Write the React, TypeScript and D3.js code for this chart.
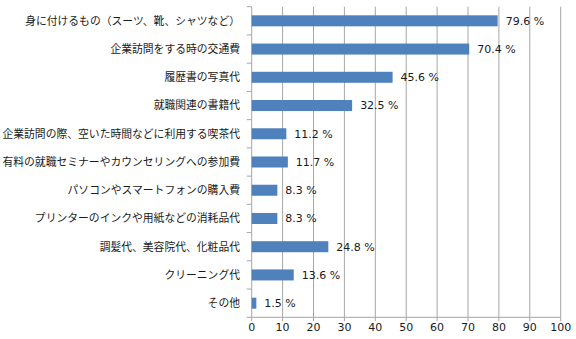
import React from "react";
import * as d3 from "d3";

const categories = [
  "身に付けるもの（スーツ、靴、シャツなど）",
  "企業訪問をする時の交通費",
  "履歴書の写真代",
  "就職関連の書籍代",
  "企業訪問の際、空いた時間などに利用する喫茶代",
  "有料の就職セミナーやカウンセリングへの参加費",
  "パソコンやスマートフォンの購入費",
  "プリンターのインクや用紙などの消耗品代",
  "調髪代、美容院代、化粧品代",
  "クリーニング代",
  "その他",
];
const values = [79.6, 70.4, 45.6, 32.5, 11.2, 11.7, 8.3, 8.3, 24.8, 13.6, 1.5];
const xTicks = [0, 10, 20, 30, 40, 50, 60, 70, 80, 90, 100];

const W = 576;
const H = 339;
const left = 251.7;
const right = 560.7;
const top = 6.7;
const bottom = 317.3;

export default function App() {
  const x = d3.scaleLinear().domain([0, 100]).range([left, right]);
  const y = d3
    .scaleBand<string>()
    .domain(categories)
    .range([top, bottom])
    .paddingInner(0.61)
    .paddingOuter(0.305);
  const band = (bottom - top) / categories.length;
  const grid = "#a6a6a6";
  const jp = "'Noto Sans CJK JP', 'Noto Sans', sans-serif";
  const num = "'DejaVu Sans', Verdana, sans-serif";
  return (
    <svg
      width={W}
      height={H}
      style={{ position: "absolute", left: 0, top: 0, background: "#fff" }}
    >
      {xTicks.map((t) => (
        <g key={t}>
          {t > 0 && (
            <line x1={x(t)} x2={x(t)} y1={top} y2={bottom} stroke={grid} strokeWidth={1} />
          )}
          <line x1={x(t)} x2={x(t)} y1={bottom} y2={bottom + 4} stroke={grid} />
          <text
            x={x(t)}
            y={bottom + 14}
            textAnchor="middle"
            fontFamily={num}
            fontSize={11}
            fill="#1a1a1a"
          >
            {t}
          </text>
        </g>
      ))}
      <line x1={left} x2={left} y1={top} y2={bottom} stroke={grid} />
      <line x1={left} x2={right} y1={bottom} y2={bottom} stroke={grid} />
      {d3.range(categories.length + 1).map((i) => (
        <line
          key={i}
          x1={left - 5}
          x2={left}
          y1={top + i * band}
          y2={top + i * band}
          stroke={grid}
        />
      ))}
      {categories.map((c, i) => (
        <g key={c}>
          <rect
            x={x(0)}
            y={y(c)}
            width={x(values[i]) - x(0)}
            height={y.bandwidth()}
            fill="#4f81bd"
          />
          <text
            x={240}
            y={(y(c) as number) + y.bandwidth() / 2}
            dy="0.36em"
            textAnchor="end"
            fontFamily={jp}
            fontSize={10.8}
            fill="#1a1a1a"
          >
            {c}
          </text>
          <text
            x={x(values[i]) + 8}
            y={(y(c) as number) + y.bandwidth() / 2}
            dy="0.36em"
            fontFamily={num}
            fontSize={11}
            fill="#1a1a1a"
          >
            {values[i].toFixed(1)} %
          </text>
        </g>
      ))}
    </svg>
  );
}
